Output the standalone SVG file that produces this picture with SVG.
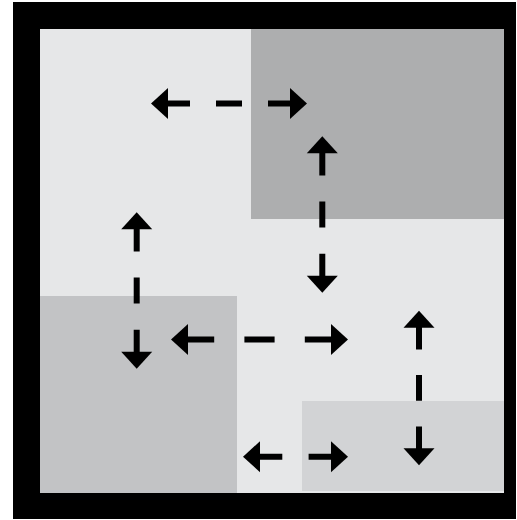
<svg xmlns="http://www.w3.org/2000/svg" width="517" height="520" viewBox="0 0 517 520">
  <style>
    .conn { stroke: #000; stroke-width: 6; fill: none; }
  </style>
  <defs>
    <marker id="head" markerUnits="userSpaceOnUse" markerWidth="17" markerHeight="31" refX="4" refY="15.5" orient="auto-start-reverse" overflow="visible">
      <path d="M0,0 L17,15.5 L0,31 Z" fill="#000"/>
    </marker>
  </defs>
  <rect x="0" y="0" width="517" height="520" fill="#ffffff"/>
  <g id="frame">
    <rect x="13" y="2" width="503" height="517" fill="#000"/>
    <rect x="40" y="29" width="464" height="464" fill="#e6e7e8"/>
  </g>
  <g id="zone-top-right">
    <rect x="251" y="29" width="253" height="190" fill="#adaeaf"/>
  </g>
  <g id="zone-bottom-left">
    <rect x="40" y="296" width="197" height="197" fill="#c2c3c5"/>
  </g>
  <g id="zone-bottom-right">
    <rect x="302" y="401" width="202" height="90" fill="#d2d3d5"/>
  </g>
  <g id="connectors">
    <line class="conn" x1="164" y1="103.5" x2="294" y2="103.5" stroke-dasharray="26 26" marker-start="url(#head)" marker-end="url(#head)"/>
    <line class="conn" x1="322.3" y1="149.3" x2="322.3" y2="279.7" stroke-dasharray="26.1 26.1" marker-start="url(#head)" marker-end="url(#head)"/>
    <line class="conn" x1="136.7" y1="225.3" x2="136.7" y2="355.7" stroke-dasharray="26.1 26.1" marker-start="url(#head)" marker-end="url(#head)"/>
    <line class="conn" x1="184" y1="339.5" x2="335" y2="339.5" stroke-dasharray="30.2 30.2" marker-start="url(#head)" marker-end="url(#head)"/>
    <line class="conn" x1="419" y1="323.7" x2="419" y2="452.3" stroke-dasharray="25.7 25.7" marker-start="url(#head)" marker-end="url(#head)"/>
    <line class="conn" x1="256" y1="456.7" x2="335" y2="456.7" stroke-dasharray="26.3 26.3" marker-start="url(#head)" marker-end="url(#head)"/>
  </g>
</svg>
